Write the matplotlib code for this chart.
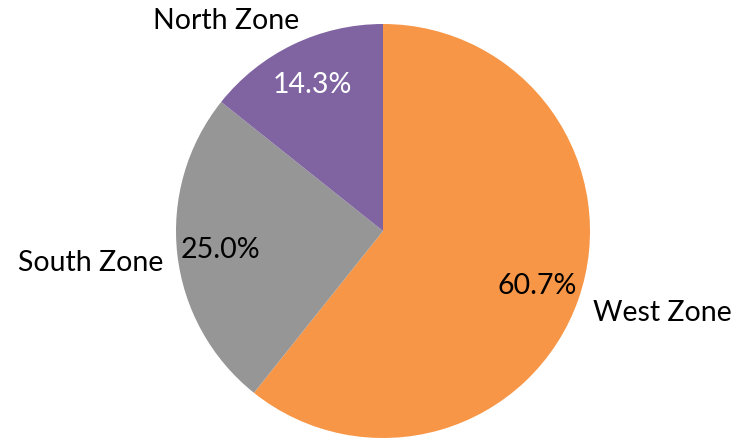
import matplotlib.pyplot as plt

zones = ["West Zone", "South Zone", "North Zone"]
counts = [17, 7, 4]
colors = ["#F79646", "#969696", "#8064A2"]
pct_colors = ["black", "black", "white"]

plt.rcParams['font.family'] = ['Lato', 'DejaVu Sans']

fig = plt.figure(figsize=(7.43, 4.39), dpi=100)
ax = fig.add_axes([0, 0, 1, 1])

cx, cy, r = 383, 207, 207
wedges, texts, autotexts = ax.pie(
    counts, labels=zones, colors=colors, startangle=90, counterclock=False,
    center=(cx, cy), radius=r, autopct='%1.1f%%', pctdistance=0.79,
    frame=True, textprops={'fontsize': 20.5})
ax.set_xlim(0, 743)
ax.set_ylim(0, 439)
ax.set_aspect('equal')
ax.axis('off')

for t, c in zip(autotexts, pct_colors):
    t.set_color(c)

# outside labels, offsets from centre in units of the radius
label_offsets = [(1.35, -0.39), (-1.41, -0.15), (-0.76, 1.02)]
for t, (dx, dy) in zip(texts, label_offsets):
    t.set_position((cx + dx * r, cy + dy * r))
    t.set_ha('center')
    t.set_va('center')

fig.savefig("out.png", dpi=100)
